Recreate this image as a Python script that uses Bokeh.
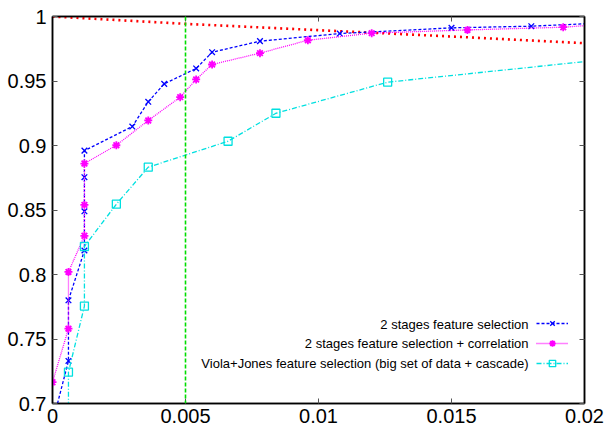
from bokeh.plotting import figure
from bokeh.models import (Range1d, FixedTicker, LinearAxis, Legend, LegendItem, Span, Label)
from bokeh.core.properties import value
from bokeh.embed import file_html
from bokeh.resources import INLINE

# ---- data ----
blue_x = [0.0, 0.0006, 0.0006, 0.0012, 0.0012, 0.0012, 0.0012, 0.0030, 0.0036, 0.0042,
          0.0054, 0.0060, 0.0078, 0.0108, 0.0150, 0.0180, 0.0216]
blue_y = [0.685, 0.733, 0.780, 0.8186, 0.849, 0.8754, 0.896, 0.9147, 0.9339, 0.9478,
          0.9597, 0.9723, 0.9809, 0.9868, 0.9912, 0.9925, 0.9958]

mag_x = [0.0, 0.0006, 0.0006, 0.0012, 0.0012, 0.0012, 0.0024, 0.0036, 0.0048, 0.0054,
         0.0060, 0.0078, 0.0096, 0.0120, 0.0156, 0.0192, 0.0204]
mag_y = [0.7165, 0.758, 0.802, 0.830, 0.854, 0.886, 0.9002, 0.9194, 0.9375, 0.9512,
         0.9628, 0.9716, 0.9816, 0.9871, 0.9896, 0.9917, 0.9935]

cyan_x = [0.0006, 0.0006, 0.0012, 0.0012, 0.0024, 0.0036, 0.0066, 0.0084, 0.0126, 0.0251]
cyan_y = [0.62, 0.7243, 0.7755, 0.8217, 0.8545, 0.8832, 0.9033, 0.925, 0.9491, 0.976]

red_x = [0.0, 0.005, 0.01, 0.015, 0.02]
red_y = [1.0, 0.9943, 0.9894, 0.9845, 0.9793]

threshold_x = 0.005

labels = ["2 stages feature selection",
          "2 stages feature selection + correlation",
          "Viola+Jones feature selection (big set of data + cascade)"]

x_ticks = [0, 0.005, 0.01, 0.015, 0.02]
x_tick_labels = ["0", "0.005", "0.01", "0.015", "0.02"]
y_ticks = [0.7, 0.75, 0.8, 0.85, 0.9, 0.95, 1.0]
y_tick_labels = ["0.7", "0.75", "0.8", "0.85", "0.9", "0.95", "1"]

FONT = "Liberation Sans"

p = figure(width=606, height=431, output_backend="svg", toolbar_location=None,
           x_range=Range1d(0, 0.02), y_range=Range1d(0.7, 1.0),
           min_border_left=52, min_border_right=22, min_border_top=16, min_border_bottom=28)
p.xgrid.visible = False
p.ygrid.visible = False
p.outline_line_color = "black"
p.outline_line_width = 1.5
p.background_fill_color = "white"
p.border_fill_color = "white"

def style_axis(ax, ticks, labs, show_labels=True):
    ax.ticker = FixedTicker(ticks=ticks)
    ax.major_label_overrides = {t: l for t, l in zip(ticks, labs)}
    ax.major_tick_in = 5
    ax.major_tick_out = 0
    ax.minor_tick_line_color = None
    ax.major_tick_line_color = "#555555"
    ax.axis_line_color = "black"
    ax.axis_line_width = 1.5
    ax.major_label_text_font = FONT
    ax.major_label_text_color = "black"
    ax.major_label_text_font_size = "20px"
    if not show_labels:
        ax.major_label_text_font_size = "1px"
        ax.major_label_text_color = None
        ax.major_label_standoff = 0

style_axis(p.xaxis[0], x_ticks, x_tick_labels)
p.xaxis[0].major_label_standoff = 5
style_axis(p.yaxis[0], y_ticks, y_tick_labels)
p.yaxis[0].major_label_standoff = 6

top_ax = LinearAxis()
style_axis(top_ax, x_ticks, x_tick_labels, show_labels=False)
p.add_layout(top_ax, "above")
right_ax = LinearAxis()
style_axis(right_ax, y_ticks, y_tick_labels, show_labels=False)
p.add_layout(right_ax, "right")

# threshold vertical line
p.add_layout(Span(location=threshold_x, dimension="height", line_color="#00dd00",
                  line_dash="4 2", line_width=1.6))

# red reference curve
p.line(red_x, red_y, line_color="#ff0000", line_width=2.6, line_dash="2 4")

# series
bl = p.line(blue_x, blue_y, line_color="#0000ff", line_width=1.3, line_dash="3 2")
bm = p.scatter(blue_x, blue_y, marker="x", size=8, line_color="#0000ff", line_width=1.3)

ml = p.line(mag_x, mag_y, line_color="#ff00ff", line_width=1.3, line_dash="1 1")
mm = p.scatter(mag_x, mag_y, marker="asterisk", size=8, line_color="#ff00ff", line_width=1.8)

cl = p.line(cyan_x, cyan_y, line_color="#00e0e0", line_width=1.3, line_dash="5 2 1 2")
cm = p.scatter(cyan_x, cyan_y, marker="square", size=8, line_color="#00e0e0",
               fill_color=None, line_width=1.3)

# legend samples (gnuplot style: samples right of right-aligned text)
legend = Legend(items=[LegendItem(label=value(""), renderers=[bl, bm]),
                       LegendItem(label=value(""), renderers=[ml, mm]),
                       LegendItem(label=value(""), renderers=[cl, cm])],
                location=(484, 32), orientation="vertical",
                background_fill_alpha=0, border_line_color=None,
                label_text_font=FONT, label_text_font_size="13px",
                glyph_width=32, glyph_height=16, label_height=16, label_width=0,
                spacing=4, padding=0, margin=0, label_standoff=0)
p.add_layout(legend, "center")

legend_x = 0.017895
legend_ys = [0.76124, 0.74651, 0.73101]
for txt, ly in zip(labels, legend_ys):
    p.add_layout(Label(x=legend_x, y=ly, text=txt, text_align="right",
                       text_baseline="middle", text_font=FONT,
                       text_font_size="13px", text_color="black"))

open("out.html", "w").write(file_html(p, INLINE))
